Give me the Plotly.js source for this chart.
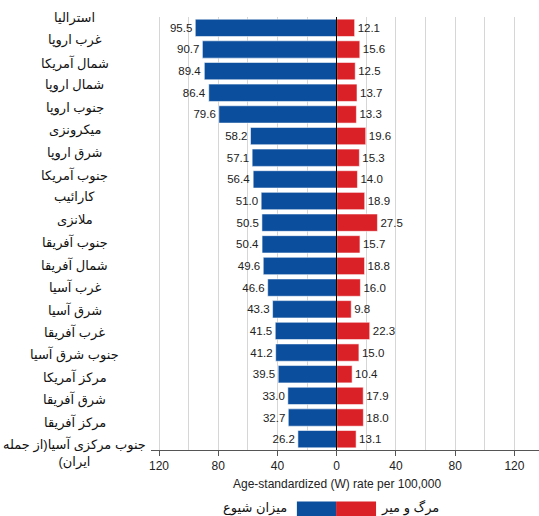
<!DOCTYPE html>
<html>
<head>
<meta charset="utf-8">
<script src="https://cdn.plot.ly/plotly-3.0.1.min.js"></script>
<style>html,body{margin:0;padding:0;background:#fff;}#chart{width:539px;height:516px;}</style>
</head>
<body>
<div id="chart"></div>
<script>
const regions = [
  'استرالیا', 'غرب اروپا', 'شمال آمریکا', 'شمال اروپا', 'جنوب اروپا',
  'میکرونزی', 'شرق اروپا', 'جنوب آمریکا', 'کارائیب', 'ملانزی',
  'جنوب آفریقا', 'شمال آفریقا', 'غرب آسیا', 'شرق آسیا', 'غرب آفریقا',
  'جنوب شرق آسیا', 'مرکز آمریکا', 'شرق آفریقا', 'مرکز آفریقا',
  'جنوب مرکزی آسیا(از جمله<br>(ایران'
];
const prevalence = [95.5, 90.7, 89.4, 86.4, 79.6, 58.2, 57.1, 56.4, 51.0, 50.5,
                    50.4, 49.6, 46.6, 43.3, 41.5, 41.2, 39.5, 33.0, 32.7, 26.2];
const mortality = [12.1, 15.6, 12.5, 13.7, 13.3, 19.6, 15.3, 14.0, 18.9, 27.5,
                   15.7, 18.8, 16.0, 9.8, 22.3, 15.0, 10.4, 17.9, 18.0, 13.1];
const tickValues = [-120, -80, -40, 0, 40, 80, 120];
const tickLabels = ['120', '80', '40', '0', '40', '80', '120'];
const seriesNames = ['میزان شیوع', 'مرگ و میر'];
const axisTitle = 'Age-standardized (W) rate per 100,000';

const BLUE = '#0b4e9e', RED = '#da2128';
const numFont = 'Liberation Sans, Arial, sans-serif';
const faFont = 'Liberation Sans, DejaVu Sans, sans-serif';

const traces = [
  {
    type: 'bar', orientation: 'h', name: seriesNames[0],
    y: regions, x: prevalence.map(v => -v),
    text: prevalence.map(v => v.toFixed(1)), textposition: 'outside',
    textfont: {family: numFont, size: 11.5, color: '#222'},
    cliponaxis: false, constraintext: 'none',
    marker: {color: BLUE, line: {color: 'rgba(255,255,255,0.55)', width: 1}},
    hoverinfo: 'skip'
  },
  {
    type: 'bar', orientation: 'h', name: seriesNames[1],
    y: regions, x: mortality,
    text: mortality.map(v => v.toFixed(1)), textposition: 'outside',
    textfont: {family: numFont, size: 11.5, color: '#222'},
    cliponaxis: false, constraintext: 'none',
    marker: {color: RED, line: {color: 'rgba(255,255,255,0.55)', width: 1}},
    hoverinfo: 'skip'
  }
];

const annotations = regions.map((r, i) => ({
  xref: 'paper', yref: 'y2', x: -0.196, y: i,
  xanchor: 'center', yanchor: 'top', yshift: 9,
  text: r, showarrow: false, align: 'center',
  font: {family: faFont, size: 13, color: '#111'}
}));
annotations.push({
  xref: 'x', yref: 'paper', x: 0, y: -0.0775, xanchor: 'center', yanchor: 'middle',
  text: axisTitle, showarrow: false, font: {family: numFont, size: 12, color: '#222'}
});
annotations.push({
  xref: 'paper', yref: 'paper', x: 0.268, y: -0.133, xanchor: 'center', yanchor: 'middle',
  text: seriesNames[0], showarrow: false, font: {family: faFont, size: 13, color: '#111'}
});
annotations.push({
  xref: 'paper', yref: 'paper', x: 0.668, y: -0.133, xanchor: 'center', yanchor: 'middle',
  text: seriesNames[1], showarrow: false, font: {family: faFont, size: 13, color: '#111'}
});

const layout = {
  width: 539, height: 516,
  margin: {l: 151, r: 0, t: 17, b: 66},
  paper_bgcolor: '#fff', plot_bgcolor: '#fff',
  barmode: 'overlay', bargap: 0.2,
  showlegend: false,
  font: {family: numFont, color: '#222'},
  xaxis: {
    range: [-125.4, 136.6], fixedrange: true,
    tickmode: 'array', tickvals: tickValues, ticktext: tickLabels,
    ticks: 'outside', ticklen: 5, tickcolor: '#555', tickwidth: 1,
    tickfont: {family: numFont, size: 12, color: '#222'},
    showline: true, linecolor: '#555', linewidth: 1,
    showgrid: true, gridcolor: '#d6d6d6', gridwidth: 1,
    minor: {dtick: 20, tick0: 0, showgrid: true, gridcolor: '#d6d6d6', gridwidth: 1, ticks: ''},
    zeroline: true, zerolinecolor: '#000', zerolinewidth: 1.5,
    zerolinelayer: 'above traces'
  },
  yaxis: {
    type: 'category', categoryorder: 'array', categoryarray: regions,
    range: [19.5, -0.5], showticklabels: false, ticks: '',
    showgrid: false, zeroline: false, showline: false, fixedrange: true
  },
  yaxis2: {
    overlaying: 'y', range: [19.31, 0], visible: false, fixedrange: true
  },
  shapes: [
    {type: 'rect', xref: 'paper', yref: 'paper', x0: 0.376, x1: 0.477, y0: -0.154, y1: -0.119,
     fillcolor: BLUE, line: {width: 0}},
    {type: 'rect', xref: 'paper', yref: 'paper', x0: 0.477, x1: 0.580, y0: -0.154, y1: -0.119,
     fillcolor: RED, line: {width: 0}}
  ],
  annotations: annotations
};

Plotly.newPlot('chart', traces, layout, {displayModeBar: false, staticPlot: true});
</script>
</body>
</html>
